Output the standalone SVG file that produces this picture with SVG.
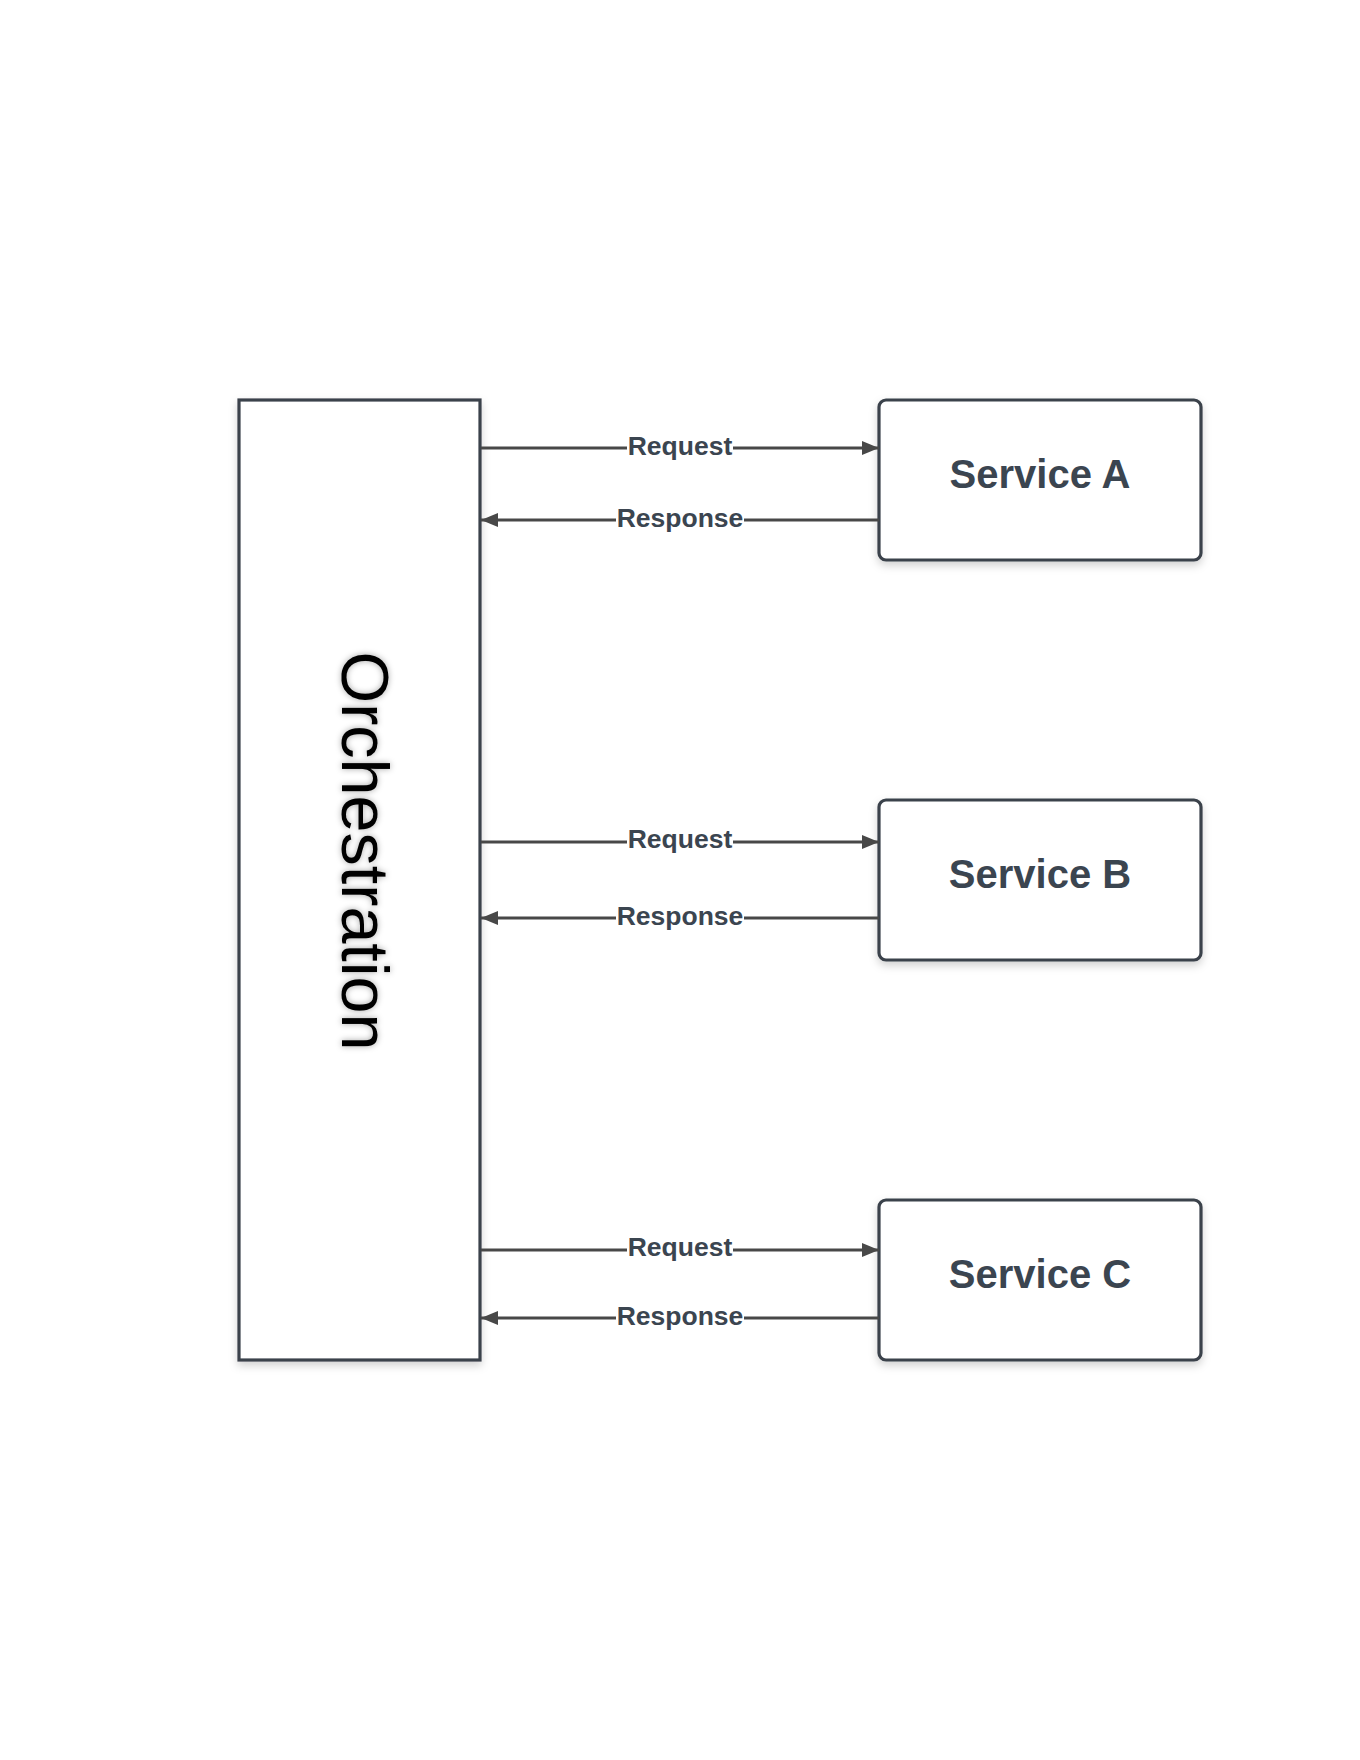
<svg xmlns="http://www.w3.org/2000/svg" width="1360" height="1760" viewBox="0 0 1360 1760">
<style>
.box{fill:#ffffff;stroke:#3b424b;stroke-width:3.2}
.svc{font-family:"Liberation Sans",Arial,sans-serif;font-weight:bold;font-size:40px;fill:#3b4550;text-anchor:middle}
.orch{font-family:"Liberation Sans",Arial,sans-serif;font-size:66.5px;fill:#000000;text-anchor:middle}
.conn{stroke:#484848;stroke-width:3;fill:none}
.lbl{font-family:"Liberation Sans",Arial,sans-serif;font-weight:bold;font-size:26.5px;fill:#3b4550;text-anchor:middle}
.lblbg{fill:#ffffff}
</style>
<defs>
<filter id="sh" x="-10%" y="-10%" width="120%" height="130%">
<feDropShadow dx="0" dy="4" stdDeviation="4" flood-color="#000" flood-opacity="0.18"/>
</filter>
<filter id="tsh" x="-20%" y="-20%" width="140%" height="140%">
<feDropShadow dx="0" dy="0" stdDeviation="3" flood-color="#000" flood-opacity="0.35"/>
</filter>
<marker id="ah" viewBox="0 0 17 14" refX="17" refY="7" markerWidth="17" markerHeight="14" markerUnits="userSpaceOnUse" orient="auto">
<path d="M0,0 L17,7 L0,14 Z" fill="#484848"/>
</marker>
</defs>
<rect width="1360" height="1760" fill="#ffffff"/>
<g id="orchestration">
<rect class="box" x="239" y="400" width="241" height="960" filter="url(#sh)"/>
<text class="orch" transform="translate(342,851) rotate(90)" filter="url(#tsh)">Orchestration</text>
</g>
<g id="service-a">
<rect class="box" x="879" y="400" width="322" height="160" rx="7" filter="url(#sh)"/>
<text class="svc" x="1040" y="488">Service A</text>
</g>
<g id="service-b">
<rect class="box" x="879" y="800" width="322" height="160" rx="7" filter="url(#sh)"/>
<text class="svc" x="1040" y="888">Service B</text>
</g>
<g id="service-c">
<rect class="box" x="879" y="1200" width="322" height="160" rx="7" filter="url(#sh)"/>
<text class="svc" x="1040" y="1288">Service C</text>
</g>
<g id="connectors">
<line class="conn" x1="481" y1="448" x2="879" y2="448" marker-end="url(#ah)"/>
<line class="conn" x1="879" y1="520" x2="481" y2="520" marker-end="url(#ah)"/>
<line class="conn" x1="481" y1="842" x2="879" y2="842" marker-end="url(#ah)"/>
<line class="conn" x1="879" y1="918" x2="481" y2="918" marker-end="url(#ah)"/>
<line class="conn" x1="481" y1="1250" x2="879" y2="1250" marker-end="url(#ah)"/>
<line class="conn" x1="879" y1="1318" x2="481" y2="1318" marker-end="url(#ah)"/>
<rect class="lblbg" x="627" y="432" width="106" height="30"/>
<text class="lbl" x="680" y="455">Request</text>
<rect class="lblbg" x="616" y="504" width="128" height="30"/>
<text class="lbl" x="680" y="527">Response</text>
<rect class="lblbg" x="627" y="826" width="106" height="30"/>
<text class="lbl" x="680" y="848">Request</text>
<rect class="lblbg" x="616" y="902" width="128" height="30"/>
<text class="lbl" x="680" y="925">Response</text>
<rect class="lblbg" x="627" y="1234" width="106" height="30"/>
<text class="lbl" x="680" y="1256">Request</text>
<rect class="lblbg" x="616" y="1302" width="128" height="30"/>
<text class="lbl" x="680" y="1325">Response</text>
</g>
</svg>
